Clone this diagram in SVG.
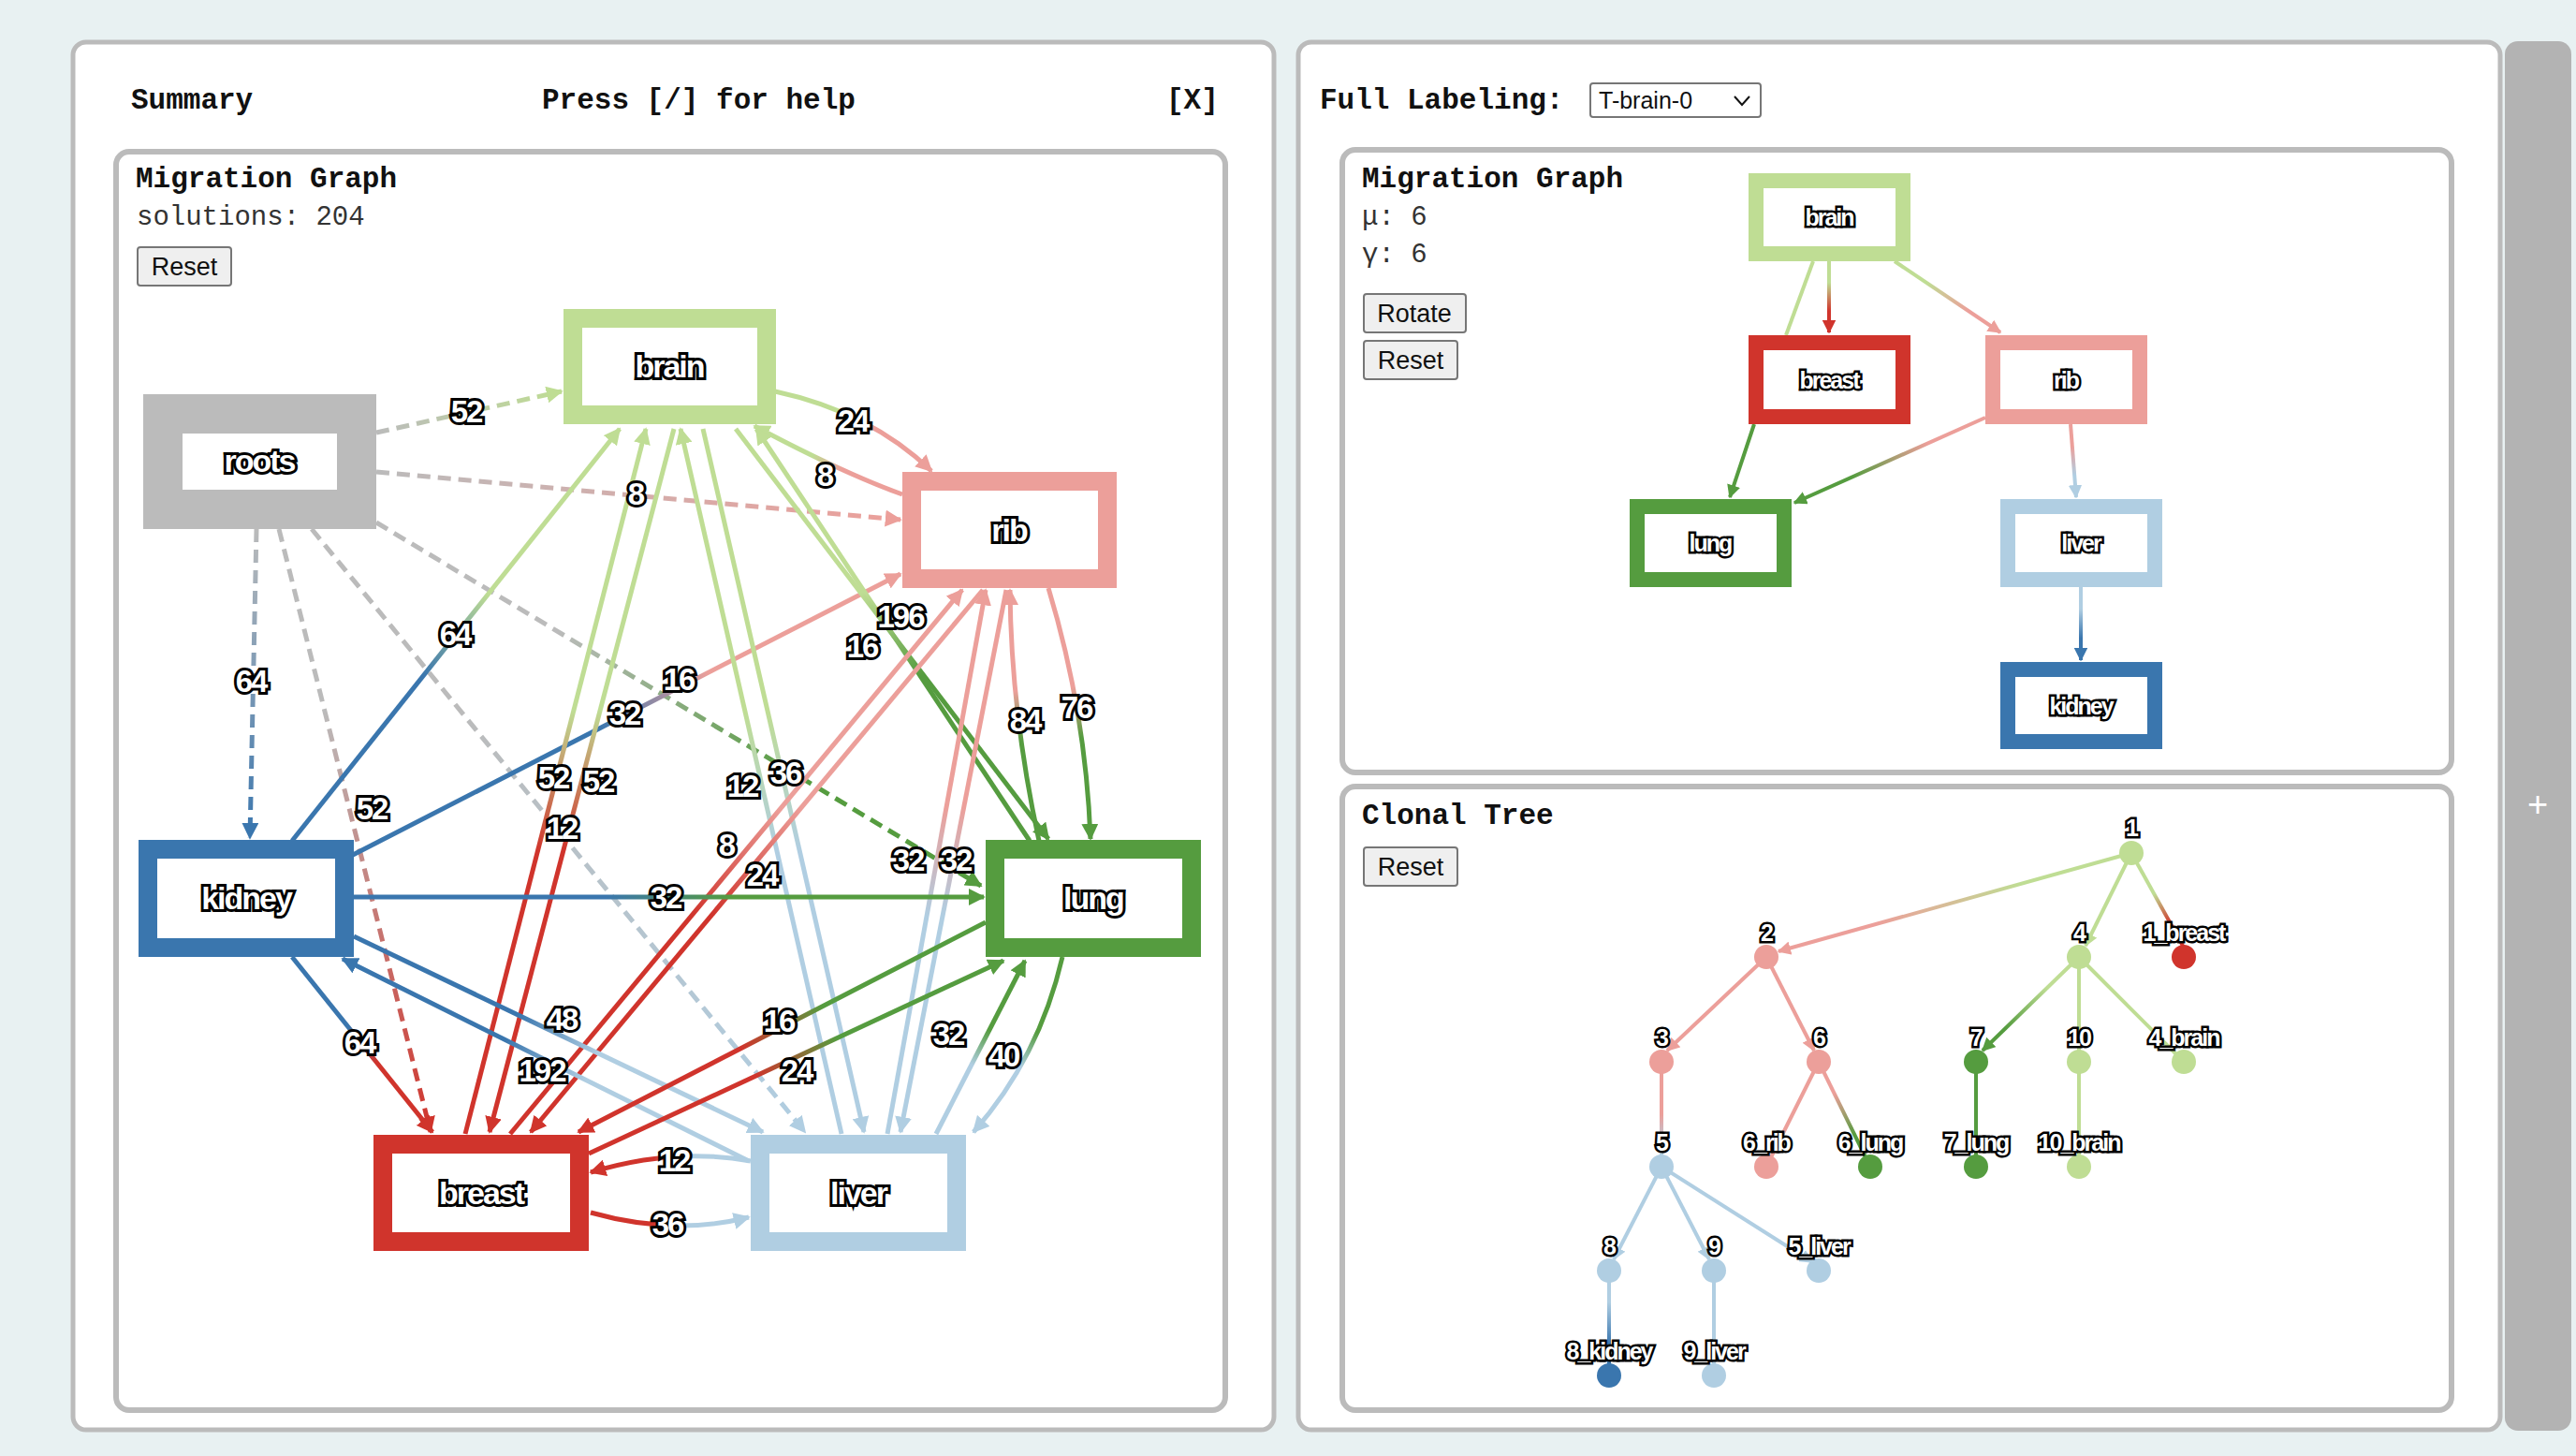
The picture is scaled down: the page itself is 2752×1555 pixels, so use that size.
<svg xmlns="http://www.w3.org/2000/svg" width="2752" height="1555" viewBox="0 0 2752 1555">
<style>
.panel{fill:#fff;stroke:#bbb;stroke-width:5}
.box{fill:#fff;stroke:#bbb;stroke-width:6}
.h{font-family:"Liberation Mono",monospace;font-weight:bold;font-size:31px;fill:#111}
.t{font-family:"Liberation Mono",monospace;font-size:29px;fill:#333}
.btn{fill:#efefef;stroke:#767676;stroke-width:2}
.bt{font-family:"Liberation Sans",sans-serif;font-size:27px;fill:#111;text-anchor:middle}
.nl{font-family:"Liberation Sans",sans-serif;font-weight:bold;font-size:34px;fill:#fff;stroke:#000;stroke-width:6;paint-order:stroke;text-anchor:middle;dominant-baseline:central;letter-spacing:-2px}
.el{font-family:"Liberation Sans",sans-serif;font-weight:bold;font-size:33px;fill:#fff;stroke:#000;stroke-width:6;paint-order:stroke;text-anchor:middle;dominant-baseline:central;letter-spacing:-2px}
.sl{font-family:"Liberation Sans",sans-serif;font-weight:bold;font-size:25px;fill:#fff;stroke:#000;stroke-width:5;paint-order:stroke;text-anchor:middle;dominant-baseline:central;letter-spacing:-2px}
.e{fill:none;stroke-width:5}
.d{stroke-dasharray:14 8}
</style>
<defs>
<marker id="mBrain" viewBox="0 0 10 10" refX="9" refY="5" markerWidth="3.6" markerHeight="3.6" orient="auto"><path d="M0,0L10,5L0,10z" fill="#bfdd94"/></marker>
<marker id="mRib" viewBox="0 0 10 10" refX="9" refY="5" markerWidth="3.6" markerHeight="3.6" orient="auto"><path d="M0,0L10,5L0,10z" fill="#ec9f9a"/></marker>
<marker id="mKid" viewBox="0 0 10 10" refX="9" refY="5" markerWidth="3.6" markerHeight="3.6" orient="auto"><path d="M0,0L10,5L0,10z" fill="#3a76ae"/></marker>
<marker id="mLung" viewBox="0 0 10 10" refX="9" refY="5" markerWidth="3.6" markerHeight="3.6" orient="auto"><path d="M0,0L10,5L0,10z" fill="#559c3f"/></marker>
<marker id="mBr" viewBox="0 0 10 10" refX="9" refY="5" markerWidth="3.6" markerHeight="3.6" orient="auto"><path d="M0,0L10,5L0,10z" fill="#d0342c"/></marker>
<marker id="mLiv" viewBox="0 0 10 10" refX="9" refY="5" markerWidth="3.6" markerHeight="3.6" orient="auto"><path d="M0,0L10,5L0,10z" fill="#b0cee2"/></marker>
<linearGradient id="g1" gradientUnits="userSpaceOnUse" x1="402" y1="462" x2="600" y2="418"><stop offset="0" stop-color="#bbb"/><stop offset="1" stop-color="#bfdd94"/></linearGradient>
<linearGradient id="g2" gradientUnits="userSpaceOnUse" x1="402" y1="504" x2="962" y2="555"><stop offset="0" stop-color="#bbb"/><stop offset="1" stop-color="#ec9f9a"/></linearGradient>
<linearGradient id="g3" gradientUnits="userSpaceOnUse" x1="274" y1="565" x2="267" y2="895"><stop offset="0" stop-color="#bbb"/><stop offset="1" stop-color="#3a76ae"/></linearGradient>
<linearGradient id="g4" gradientUnits="userSpaceOnUse" x1="298" y1="565" x2="460" y2="1209"><stop offset="0.3" stop-color="#bbb"/><stop offset="1" stop-color="#d0342c"/></linearGradient>
<linearGradient id="g5" gradientUnits="userSpaceOnUse" x1="333" y1="565" x2="860" y2="1209"><stop offset="0.3" stop-color="#bbb"/><stop offset="1" stop-color="#b0cee2"/></linearGradient>
<linearGradient id="g6" gradientUnits="userSpaceOnUse" x1="402" y1="558" x2="1048" y2="946"><stop offset="0.3" stop-color="#bbb"/><stop offset="0.7" stop-color="#559c3f"/></linearGradient>
<linearGradient id="g7" gradientUnits="userSpaceOnUse" x1="828" y1="418" x2="995" y2="503"><stop offset="0.4" stop-color="#bfdd94"/><stop offset="0.6" stop-color="#ec9f9a"/></linearGradient>
<linearGradient id="g8" gradientUnits="userSpaceOnUse" x1="964" y1="528" x2="806" y2="455"><stop offset="0.4" stop-color="#ec9f9a"/><stop offset="0.6" stop-color="#bfdd94"/></linearGradient>
<linearGradient id="g9" gradientUnits="userSpaceOnUse" x1="312" y1="898" x2="662" y2="458"><stop offset="0.4" stop-color="#3a76ae"/><stop offset="0.6" stop-color="#bfdd94"/></linearGradient>
<linearGradient id="g10" gradientUnits="userSpaceOnUse" x1="377" y1="913" x2="962" y2="613"><stop offset="0.45" stop-color="#3a76ae"/><stop offset="0.65" stop-color="#ec9f9a"/></linearGradient>
<linearGradient id="g11" gradientUnits="userSpaceOnUse" x1="497" y1="1211" x2="690" y2="458"><stop offset="0.4" stop-color="#d0342c"/><stop offset="0.6" stop-color="#bfdd94"/></linearGradient>
<linearGradient id="g12" gradientUnits="userSpaceOnUse" x1="720" y1="458" x2="523" y2="1209"><stop offset="0.4" stop-color="#bfdd94"/><stop offset="0.6" stop-color="#d0342c"/></linearGradient>
<linearGradient id="g13" gradientUnits="userSpaceOnUse" x1="899" y1="1211" x2="727" y2="458"><stop offset="0.4" stop-color="#b0cee2"/><stop offset="0.6" stop-color="#bfdd94"/></linearGradient>
<linearGradient id="g14" gradientUnits="userSpaceOnUse" x1="751" y1="458" x2="923" y2="1209"><stop offset="0.4" stop-color="#bfdd94"/><stop offset="0.6" stop-color="#b0cee2"/></linearGradient>
<linearGradient id="g15" gradientUnits="userSpaceOnUse" x1="1100" y1="898" x2="808" y2="458"><stop offset="0.4" stop-color="#559c3f"/><stop offset="0.6" stop-color="#bfdd94"/></linearGradient>
<linearGradient id="g16" gradientUnits="userSpaceOnUse" x1="786" y1="458" x2="1120" y2="896"><stop offset="0.4" stop-color="#bfdd94"/><stop offset="0.6" stop-color="#559c3f"/></linearGradient>
<linearGradient id="g17" gradientUnits="userSpaceOnUse" x1="545" y1="1211" x2="1028" y2="630"><stop offset="0.4" stop-color="#d0342c"/><stop offset="0.6" stop-color="#ec9f9a"/></linearGradient>
<linearGradient id="g18" gradientUnits="userSpaceOnUse" x1="1050" y1="630" x2="567" y2="1209"><stop offset="0.4" stop-color="#ec9f9a"/><stop offset="0.6" stop-color="#d0342c"/></linearGradient>
<linearGradient id="g19" gradientUnits="userSpaceOnUse" x1="948" y1="1211" x2="1053" y2="630"><stop offset="0.4" stop-color="#b0cee2"/><stop offset="0.6" stop-color="#ec9f9a"/></linearGradient>
<linearGradient id="g20" gradientUnits="userSpaceOnUse" x1="1075" y1="630" x2="962" y2="1209"><stop offset="0.4" stop-color="#ec9f9a"/><stop offset="0.6" stop-color="#b0cee2"/></linearGradient>
<linearGradient id="g21" gradientUnits="userSpaceOnUse" x1="1110" y1="898" x2="1079" y2="630"><stop offset="0.4" stop-color="#559c3f"/><stop offset="0.6" stop-color="#ec9f9a"/></linearGradient>
<linearGradient id="g22" gradientUnits="userSpaceOnUse" x1="1120" y1="628" x2="1165" y2="896"><stop offset="0.4" stop-color="#ec9f9a"/><stop offset="0.6" stop-color="#559c3f"/></linearGradient>
<linearGradient id="g23" gradientUnits="userSpaceOnUse" x1="378" y1="958" x2="1051" y2="958"><stop offset="0.4" stop-color="#3a76ae"/><stop offset="0.6" stop-color="#559c3f"/></linearGradient>
<linearGradient id="g24" gradientUnits="userSpaceOnUse" x1="378" y1="1000" x2="815" y2="1209"><stop offset="0.4" stop-color="#3a76ae"/><stop offset="0.6" stop-color="#b0cee2"/></linearGradient>
<linearGradient id="g25" gradientUnits="userSpaceOnUse" x1="800" y1="1240" x2="366" y2="1024"><stop offset="0.4" stop-color="#b0cee2"/><stop offset="0.6" stop-color="#3a76ae"/></linearGradient>
<linearGradient id="g26" gradientUnits="userSpaceOnUse" x1="312" y1="1022" x2="462" y2="1209"><stop offset="0.4" stop-color="#3a76ae"/><stop offset="0.6" stop-color="#d0342c"/></linearGradient>
<linearGradient id="g27" gradientUnits="userSpaceOnUse" x1="1053" y1="985" x2="618" y2="1209"><stop offset="0.4" stop-color="#559c3f"/><stop offset="0.6" stop-color="#d0342c"/></linearGradient>
<linearGradient id="g28" gradientUnits="userSpaceOnUse" x1="629" y1="1232" x2="1072" y2="1026"><stop offset="0.4" stop-color="#d0342c"/><stop offset="0.6" stop-color="#559c3f"/></linearGradient>
<linearGradient id="g29" gradientUnits="userSpaceOnUse" x1="1000" y1="1211" x2="1095" y2="1026"><stop offset="0.4" stop-color="#b0cee2"/><stop offset="0.6" stop-color="#559c3f"/></linearGradient>
<linearGradient id="g30" gradientUnits="userSpaceOnUse" x1="1135" y1="1022" x2="1040" y2="1209"><stop offset="0.4" stop-color="#559c3f"/><stop offset="0.6" stop-color="#b0cee2"/></linearGradient>
<linearGradient id="g31" gradientUnits="userSpaceOnUse" x1="802" y1="1240" x2="631" y2="1252"><stop offset="0.4" stop-color="#b0cee2"/><stop offset="0.6" stop-color="#d0342c"/></linearGradient>
<linearGradient id="g32" gradientUnits="userSpaceOnUse" x1="631" y1="1295" x2="800" y2="1300"><stop offset="0.4" stop-color="#d0342c"/><stop offset="0.6" stop-color="#b0cee2"/></linearGradient>
<linearGradient id="r1" gradientUnits="userSpaceOnUse" x1="1954" y1="279" x2="1954" y2="355"><stop offset="0.3" stop-color="#bfdd94"/><stop offset="0.7" stop-color="#d0342c"/></linearGradient>
<linearGradient id="r2" gradientUnits="userSpaceOnUse" x1="2024" y1="279" x2="2137" y2="355"><stop offset="0.3" stop-color="#bfdd94"/><stop offset="0.7" stop-color="#ec9f9a"/></linearGradient>
<linearGradient id="r3" gradientUnits="userSpaceOnUse" x1="2121" y1="446" x2="1917" y2="537"><stop offset="0.3" stop-color="#ec9f9a"/><stop offset="0.7" stop-color="#559c3f"/></linearGradient>
<linearGradient id="r4" gradientUnits="userSpaceOnUse" x1="2212" y1="453" x2="2218" y2="531"><stop offset="0.3" stop-color="#ec9f9a"/><stop offset="0.7" stop-color="#b0cee2"/></linearGradient>
<linearGradient id="r5" gradientUnits="userSpaceOnUse" x1="2223" y1="627" x2="2223" y2="705"><stop offset="0.3" stop-color="#b0cee2"/><stop offset="0.7" stop-color="#3a76ae"/></linearGradient>
<linearGradient id="t1" gradientUnits="userSpaceOnUse" x1="2277" y1="911" x2="1887" y2="1022"><stop offset="0.3" stop-color="#bfdd94"/><stop offset="0.7" stop-color="#ec9f9a"/></linearGradient>
<linearGradient id="t2" gradientUnits="userSpaceOnUse" x1="2277" y1="911" x2="2333" y2="1022"><stop offset="0.4" stop-color="#bfdd94"/><stop offset="0.7" stop-color="#d0342c"/></linearGradient>
<linearGradient id="t3" gradientUnits="userSpaceOnUse" x1="2221" y1="1022" x2="2111" y2="1134"><stop offset="0.3" stop-color="#bfdd94"/><stop offset="0.7" stop-color="#559c3f"/></linearGradient>
<linearGradient id="t4" gradientUnits="userSpaceOnUse" x1="1775" y1="1134" x2="1775" y2="1246"><stop offset="0.5" stop-color="#ec9f9a"/><stop offset="0.8" stop-color="#b0cee2"/></linearGradient>
<linearGradient id="t5" gradientUnits="userSpaceOnUse" x1="1943" y1="1134" x2="1998" y2="1246"><stop offset="0.3" stop-color="#ec9f9a"/><stop offset="0.7" stop-color="#559c3f"/></linearGradient>
<linearGradient id="t6" gradientUnits="userSpaceOnUse" x1="1719" y1="1357" x2="1719" y2="1469"><stop offset="0.3" stop-color="#b0cee2"/><stop offset="0.7" stop-color="#3a76ae"/></linearGradient>
</defs>
<rect width="2752" height="1555" fill="#e8f1f2"/>
<rect class="panel" x="78" y="45" width="1283" height="1482" rx="14"/>
<rect class="panel" x="1387" y="45" width="1284" height="1482" rx="14"/>
<rect x="2676" y="44" width="71" height="1484" rx="14" fill="#b3b3b3"/>
<text x="2711" y="872" font-family="Liberation Sans,sans-serif" font-size="38" fill="#fff" text-anchor="middle">+</text>
<text class="h" x="140" y="116">Summary</text>
<text class="h" x="579" y="116">Press [/] for help</text>
<text class="h" x="1246" y="116">[X]</text>
<rect class="box" x="124" y="162" width="1185" height="1344" rx="14"/>
<text class="h" x="145" y="200" font-size="29">Migration Graph</text>
<text class="t" x="146" y="240">solutions: 204</text>
<rect class="btn" x="147" y="264" width="100" height="41" rx="3"/>
<text class="bt" x="197" y="294">Reset</text>
<g id="connectors">
<line class="e d" x1="402" y1="462" x2="600" y2="418" stroke="url(#g1)" marker-end="url(#mBrain)"/>
<line class="e d" x1="402" y1="504" x2="962" y2="555" stroke="url(#g2)" marker-end="url(#mRib)"/>
<line class="e d" x1="274" y1="565" x2="267" y2="895" stroke="url(#g3)" marker-end="url(#mKid)"/>
<line class="e d" x1="298" y1="565" x2="460" y2="1209" stroke="url(#g4)" marker-end="url(#mBr)"/>
<line class="e d" x1="333" y1="565" x2="860" y2="1209" stroke="url(#g5)" marker-end="url(#mLiv)"/>
<line class="e d" x1="402" y1="558" x2="1048" y2="946" stroke="url(#g6)" marker-end="url(#mLung)"/>
<path class="e" d="M828,418 Q930,440 995,503" stroke="url(#g7)" marker-end="url(#mRib)"/>
<path class="e" d="M964,528 Q900,505 806,455" stroke="url(#g8)" marker-end="url(#mBrain)"/>
<line class="e" x1="312" y1="898" x2="662" y2="458" stroke="url(#g9)" marker-end="url(#mBrain)"/>
<line class="e" x1="377" y1="913" x2="962" y2="613" stroke="url(#g10)" marker-end="url(#mRib)"/>
<line class="e" x1="497" y1="1211" x2="690" y2="458" stroke="url(#g11)" marker-end="url(#mBrain)"/>
<line class="e" x1="720" y1="458" x2="523" y2="1209" stroke="url(#g12)" marker-end="url(#mBr)"/>
<line class="e" x1="899" y1="1211" x2="727" y2="458" stroke="url(#g13)" marker-end="url(#mBrain)"/>
<line class="e" x1="751" y1="458" x2="923" y2="1209" stroke="url(#g14)" marker-end="url(#mLiv)"/>
<line class="e" x1="1100" y1="898" x2="808" y2="458" stroke="url(#g15)" marker-end="url(#mBrain)"/>
<line class="e" x1="786" y1="458" x2="1120" y2="896" stroke="url(#g16)" marker-end="url(#mLung)"/>
<line class="e" x1="545" y1="1211" x2="1028" y2="630" stroke="url(#g17)" marker-end="url(#mRib)"/>
<line class="e" x1="1050" y1="630" x2="567" y2="1209" stroke="url(#g18)" marker-end="url(#mBr)"/>
<line class="e" x1="948" y1="1211" x2="1053" y2="630" stroke="url(#g19)" marker-end="url(#mRib)"/>
<line class="e" x1="1075" y1="630" x2="962" y2="1209" stroke="url(#g20)" marker-end="url(#mLiv)"/>
<path class="e" d="M1110,898 Q1080,760 1079,630" stroke="url(#g21)" marker-end="url(#mRib)"/>
<path class="e" d="M1120,628 Q1160,760 1165,896" stroke="url(#g22)" marker-end="url(#mLung)"/>
<line class="e" x1="378" y1="958" x2="1051" y2="958" stroke="url(#g23)" stroke-width="8" marker-end="url(#mLung)"/>
<line class="e" x1="378" y1="1000" x2="815" y2="1209" stroke="url(#g24)" stroke-width="7" marker-end="url(#mLiv)"/>
<line class="e" x1="800" y1="1240" x2="366" y2="1024" stroke="url(#g25)" stroke-width="7" marker-end="url(#mKid)"/>
<line class="e" x1="312" y1="1022" x2="462" y2="1209" stroke="url(#g26)" marker-end="url(#mBr)"/>
<line class="e" x1="1053" y1="985" x2="618" y2="1209" stroke="url(#g27)" stroke-width="6" marker-end="url(#mBr)"/>
<line class="e" x1="629" y1="1232" x2="1072" y2="1026" stroke="url(#g28)" stroke-width="6" marker-end="url(#mLung)"/>
<line class="e" x1="1000" y1="1211" x2="1095" y2="1026" stroke="url(#g29)" marker-end="url(#mLung)"/>
<path class="e" d="M1135,1022 Q1110,1130 1040,1209" stroke="url(#g30)" marker-end="url(#mLiv)"/>
<path class="e" d="M802,1240 Q720,1225 631,1252" stroke="url(#g31)" stroke-width="7" marker-end="url(#mBr)"/>
<path class="e" d="M631,1295 Q720,1320 800,1300" stroke="url(#g32)" stroke-width="7" marker-end="url(#mLiv)"/>
</g>
<g id="n-roots"><rect x="174" y="442" width="207" height="102" fill="#fff" stroke="#bbb" stroke-width="42"/><text class="nl" x="277" y="492">roots</text></g>
<g id="n-brain"><rect x="612" y="340" width="207" height="103" fill="#fff" stroke="#bfdd94" stroke-width="20"/><text class="nl" x="715" y="391">brain</text></g>
<g id="n-rib"><rect x="974" y="514" width="209" height="104" fill="#fff" stroke="#ec9f9a" stroke-width="20"/><text class="nl" x="1078" y="566">rib</text></g>
<g id="n-kidney"><rect x="158" y="907" width="210" height="105" fill="#fff" stroke="#3a76ae" stroke-width="20"/><text class="nl" x="263" y="959">kidney</text></g>
<g id="n-lung"><rect x="1063" y="907" width="210" height="105" fill="#fff" stroke="#559c3f" stroke-width="20"/><text class="nl" x="1168" y="959">lung</text></g>
<g id="n-breast"><rect x="409" y="1222" width="210" height="104" fill="#fff" stroke="#d0342c" stroke-width="20"/><text class="nl" x="514" y="1274">breast</text></g>
<g id="n-liver"><rect x="812" y="1222" width="210" height="104" fill="#fff" stroke="#b0cee2" stroke-width="20"/><text class="nl" x="917" y="1274">liver</text></g>
<g id="edge-labels">
<text class="el" x="498" y="439">52</text><text class="el" x="679" y="527">8</text><text class="el" x="268" y="727">64</text>
<text class="el" x="397" y="863">52</text><text class="el" x="600" y="884">12</text><text class="el" x="725" y="725">16</text>
<text class="el" x="911" y="449">24</text><text class="el" x="881" y="507">8</text><text class="el" x="486" y="677">64</text>
<text class="el" x="667" y="762">32</text><text class="el" x="591" y="830">52</text><text class="el" x="639" y="834">52</text>
<text class="el" x="793" y="839">12</text><text class="el" x="839" y="825">36</text><text class="el" x="921" y="690">16</text>
<text class="el" x="962" y="658">196</text><text class="el" x="776" y="902">8</text><text class="el" x="814" y="934">24</text>
<text class="el" x="970" y="918">32</text><text class="el" x="1021" y="918">32</text><text class="el" x="1095" y="769">84</text>
<text class="el" x="1150" y="755">76</text><text class="el" x="711" y="958">32</text><text class="el" x="600" y="1088">48</text>
<text class="el" x="579" y="1143">192</text><text class="el" x="384" y="1113">64</text><text class="el" x="832" y="1090">16</text>
<text class="el" x="851" y="1143">24</text><text class="el" x="1013" y="1104">32</text><text class="el" x="1072" y="1127">40</text>
<text class="el" x="720" y="1239">12</text><text class="el" x="713" y="1307">36</text>
</g>
<text class="h" x="1410" y="116">Full Labeling:</text>
<rect x="1699" y="89" width="182" height="36" rx="3" fill="#fff" stroke="#767676" stroke-width="2"/>
<text x="1708" y="116" font-family="Liberation Sans,sans-serif" font-size="25" fill="#111">T-brain-0</text>
<path d="M1853,103 L1861,112 L1869,103" fill="none" stroke="#111" stroke-width="2"/>
<rect class="box" x="1434" y="160" width="1185" height="665" rx="14"/>
<text class="h" x="1455" y="200" font-size="29">Migration Graph</text>
<text class="t" x="1455" y="240">μ: 6</text>
<text class="t" x="1455" y="280">γ: 6</text>
<rect class="btn" x="1457" y="314" width="109" height="41" rx="3"/>
<text class="bt" x="1511" y="344">Rotate</text>
<rect class="btn" x="1457" y="364" width="100" height="41" rx="3"/>
<text class="bt" x="1507" y="394">Reset</text>
<g id="r-connectors">
<line x1="1937" y1="279" x2="1908" y2="358" stroke="#bfdd94" stroke-width="4"/>
<line x1="1954" y1="279" x2="1954" y2="355" stroke="url(#r1)" stroke-width="4" marker-end="url(#mBr)"/>
<line x1="2024" y1="279" x2="2137" y2="355" stroke="url(#r2)" stroke-width="4" marker-end="url(#mRib)"/>
<line x1="1874" y1="453" x2="1848" y2="531" stroke="#559c3f" stroke-width="4" marker-end="url(#mLung)"/>
<line x1="2121" y1="446" x2="1917" y2="537" stroke="url(#r3)" stroke-width="4" marker-end="url(#mLung)"/>
<line x1="2212" y1="453" x2="2218" y2="531" stroke="url(#r4)" stroke-width="4" marker-end="url(#mLiv)"/>
<line x1="2223" y1="627" x2="2223" y2="705" stroke="url(#r5)" stroke-width="4" marker-end="url(#mKid)"/>
</g>
<g id="r-brain"><rect x="1876" y="193" width="157" height="78" fill="#fff" stroke="#bfdd94" stroke-width="16"/><text class="sl" x="1954" y="232">brain</text></g>
<g id="r-breast"><rect x="1876" y="366" width="157" height="79" fill="#fff" stroke="#d0342c" stroke-width="16"/><text class="sl" x="1954" y="406">breast</text></g>
<g id="r-rib"><rect x="2129" y="366" width="157" height="79" fill="#fff" stroke="#ec9f9a" stroke-width="16"/><text class="sl" x="2207" y="406">rib</text></g>
<g id="r-lung"><rect x="1749" y="541" width="157" height="78" fill="#fff" stroke="#559c3f" stroke-width="16"/><text class="sl" x="1827" y="580">lung</text></g>
<g id="r-liver"><rect x="2145" y="541" width="157" height="78" fill="#fff" stroke="#b0cee2" stroke-width="16"/><text class="sl" x="2223" y="580">liver</text></g>
<g id="r-kidney"><rect x="2145" y="715" width="157" height="77" fill="#fff" stroke="#3a76ae" stroke-width="16"/><text class="sl" x="2223" y="754">kidney</text></g>
<rect class="box" x="1434" y="840" width="1185" height="666" rx="14"/>
<text class="h" x="1455" y="880" font-size="29">Clonal Tree</text>
<rect class="btn" x="1457" y="905" width="100" height="41" rx="3"/>
<text class="bt" x="1507" y="935">Reset</text>
<g id="t-connectors" stroke-width="4" fill="none">
<line x1="2277" y1="911" x2="1900" y2="1016" stroke="url(#t1)" marker-end="url(#mRib)"/>
<line x1="2277" y1="911" x2="2228" y2="1010" stroke="#bfdd94" marker-end="url(#mBrain)"/>
<line x1="2277" y1="911" x2="2333" y2="1012" stroke="url(#t2)"/>
<line x1="1887" y1="1022" x2="1781" y2="1122" stroke="#ec9f9a" marker-end="url(#mRib)"/>
<line x1="1887" y1="1022" x2="1938" y2="1122" stroke="#ec9f9a" marker-end="url(#mRib)"/>
<line x1="2221" y1="1022" x2="2118" y2="1122" stroke="url(#t3)" marker-end="url(#mLung)"/>
<line x1="2221" y1="1022" x2="2221" y2="1134" stroke="#bfdd94"/>
<line x1="2221" y1="1022" x2="2333" y2="1134" stroke="#bfdd94"/>
<line x1="1775" y1="1134" x2="1775" y2="1246" stroke="url(#t4)"/>
<line x1="1943" y1="1134" x2="1887" y2="1246" stroke="#ec9f9a"/>
<line x1="1943" y1="1134" x2="1998" y2="1246" stroke="url(#t5)"/>
<line x1="2111" y1="1134" x2="2111" y2="1246" stroke="#559c3f"/>
<line x1="2221" y1="1134" x2="2221" y2="1246" stroke="#bfdd94"/>
<line x1="1775" y1="1246" x2="1724" y2="1345" stroke="#b0cee2" marker-end="url(#mLiv)"/>
<line x1="1775" y1="1246" x2="1826" y2="1345" stroke="#b0cee2" marker-end="url(#mLiv)"/>
<line x1="1775" y1="1246" x2="1936" y2="1348" stroke="#b0cee2" marker-end="url(#mLiv)"/>
<line x1="1719" y1="1357" x2="1719" y2="1469" stroke="url(#t6)"/>
<line x1="1831" y1="1357" x2="1831" y2="1469" stroke="#b0cee2"/>
</g>
<g id="t-nodes">
<g id="c1"><circle cx="2277" cy="911" r="13" fill="#bfdd94"/><text class="sl" x="2277" y="884">1</text></g>
<g id="c2"><circle cx="1887" cy="1022" r="13" fill="#ec9f9a"/><text class="sl" x="1887" y="996">2</text></g>
<g id="c4"><circle cx="2221" cy="1022" r="13" fill="#bfdd94"/><text class="sl" x="2221" y="996">4</text></g>
<g id="c1b"><circle cx="2333" cy="1022" r="13" fill="#d0342c"/><text class="sl" x="2333" y="996">1_breast</text></g>
<g id="c3"><circle cx="1775" cy="1134" r="13" fill="#ec9f9a"/><text class="sl" x="1775" y="1108">3</text></g>
<g id="c6"><circle cx="1943" cy="1134" r="13" fill="#ec9f9a"/><text class="sl" x="1943" y="1108">6</text></g>
<g id="c7"><circle cx="2111" cy="1134" r="13" fill="#559c3f"/><text class="sl" x="2111" y="1108">7</text></g>
<g id="c10"><circle cx="2221" cy="1134" r="13" fill="#bfdd94"/><text class="sl" x="2221" y="1108">10</text></g>
<g id="c4b"><circle cx="2333" cy="1134" r="13" fill="#bfdd94"/><text class="sl" x="2333" y="1108">4_brain</text></g>
<g id="c5"><circle cx="1775" cy="1246" r="13" fill="#b0cee2"/><text class="sl" x="1775" y="1220">5</text></g>
<g id="c6r"><circle cx="1887" cy="1246" r="13" fill="#ec9f9a"/><text class="sl" x="1887" y="1220">6_rib</text></g>
<g id="c6l"><circle cx="1998" cy="1246" r="13" fill="#559c3f"/><text class="sl" x="1998" y="1220">6_lung</text></g>
<g id="c7l"><circle cx="2111" cy="1246" r="13" fill="#559c3f"/><text class="sl" x="2111" y="1220">7_lung</text></g>
<g id="c10b"><circle cx="2221" cy="1246" r="13" fill="#bfdd94"/><text class="sl" x="2221" y="1220">10_brain</text></g>
<g id="c8"><circle cx="1719" cy="1357" r="13" fill="#b0cee2"/><text class="sl" x="1719" y="1331">8</text></g>
<g id="c9"><circle cx="1831" cy="1357" r="13" fill="#b0cee2"/><text class="sl" x="1831" y="1331">9</text></g>
<g id="c5l"><circle cx="1943" cy="1357" r="13" fill="#b0cee2"/><text class="sl" x="1943" y="1331">5_liver</text></g>
<g id="c8k"><circle cx="1719" cy="1469" r="13" fill="#3a76ae"/><text class="sl" x="1719" y="1443">8_kidney</text></g>
<g id="c9l"><circle cx="1831" cy="1469" r="13" fill="#b0cee2"/><text class="sl" x="1831" y="1443">9_liver</text></g>
</g>
</svg>
